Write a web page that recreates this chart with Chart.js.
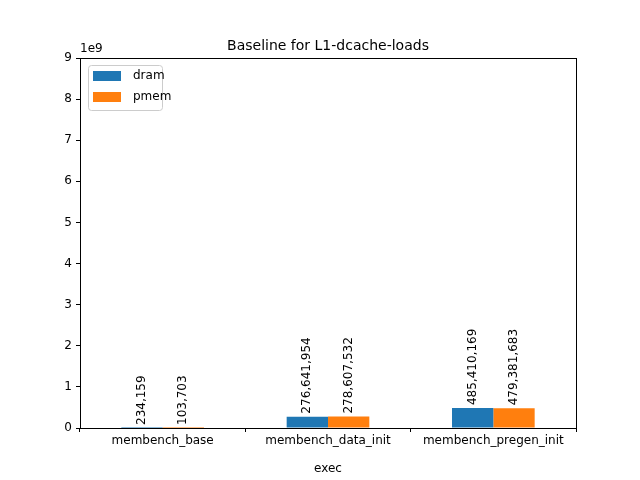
<!DOCTYPE html>
<html><head><meta charset="utf-8">
<script src="https://cdn.jsdelivr.net/npm/chart.js@4/dist/chart.umd.min.js"></script>
<style>html,body{margin:0;padding:0;background:#fff}#c{display:block}</style>
</head><body>
<div style="width:640px;height:480px"><canvas id="c"></canvas></div>
<script>
const categories = ["membench_base", "membench_data_init", "membench_pregen_init"];
const dram = [234159, 276641954, 485410169];
const pmem = [103703, 278607532, 479381683];
const yTicks = [0, 1, 2, 3, 4, 5, 6, 7, 8, 9];

const FONT = "'DejaVu Sans', sans-serif";

const extras = {
  id: "extras",
  afterDatasetsDraw(chart) {
    const ctx = chart.ctx, a = chart.chartArea;
    ctx.save();
    // value labels
    ctx.fillStyle = "#000";
    ctx.font = "12px " + FONT;
    ctx.textBaseline = "middle";
    ctx.textAlign = "left";
    chart.data.datasets.forEach((ds, i) => {
      chart.getDatasetMeta(i).data.forEach((bar, j) => {
        ctx.save();
        ctx.translate(bar.x, bar.y - 3);
        ctx.rotate(-Math.PI / 2);
        ctx.fillText(ds.data[j].toLocaleString("en-US"), 0, 0);
        ctx.restore();
      });
    });
    // frame
    ctx.strokeStyle = "#000";
    ctx.lineWidth = 1;
    ctx.strokeRect(Math.round(a.left) + 0.5, Math.round(a.top) + 0.5, Math.round(a.right - a.left), Math.round(a.bottom - a.top));
    // title
    ctx.font = "14px " + FONT;
    ctx.textAlign = "center";
    ctx.textBaseline = "alphabetic";
    ctx.fillText("Baseline for L1-dcache-loads", (a.left + a.right) / 2, a.top - 8);
    // exponent
    ctx.font = "12px " + FONT;
    ctx.textAlign = "left";
    ctx.fillText("1e9", a.left, a.top - 6);
    // legend
    const lx = a.left + 8, ly = a.top + 7;
    ctx.fillStyle = "rgba(255,255,255,0.8)";
    ctx.strokeStyle = "#ccc";
    ctx.beginPath();
    ctx.roundRect(lx + 0.5, ly + 0.5, 74, 45, 3);
    ctx.fill(); ctx.stroke();
    chart.data.datasets.forEach((ds, i) => {
      const y = ly + 11 + i * 21;
      ctx.fillStyle = ds.backgroundColor;
      ctx.fillRect(lx + 5, y - 5, 28, 10);
      ctx.fillStyle = "#000";
      ctx.textBaseline = "middle";
      ctx.fillText(ds.label, lx + 45, y);
    });
    ctx.restore();
  }
};

new Chart(document.getElementById("c"), {
  type: "bar",
  data: {
    labels: categories,
    datasets: [
      { label: "dram", data: dram, backgroundColor: "#1f77b4" },
      { label: "pmem", data: pmem, backgroundColor: "#ff7f0e" },
    ],
  },
  options: {
    responsive: true,
    maintainAspectRatio: false,
    animation: false,
    devicePixelRatio: 1,
    layout: { padding: { top: 58, right: 64, left: 0, bottom: 0 } },
    categoryPercentage: 0.5,
    barPercentage: 1,
    plugins: { legend: { display: false }, tooltip: { enabled: false } },
    scales: {
      x: {
        grid: { drawOnChartArea: false, color: "#000", tickLength: 4 },
        border: { display: false },
        ticks: { color: "#000", font: { family: FONT, size: 12 }, maxRotation: 0, padding: 2 },
        title: { display: true, text: "exec", color: "#000", font: { family: FONT, size: 12 }, padding: { top: 0 } },
        afterFit(s) { s.height = 52; },
      },
      y: {
        min: 0, max: 9e9,
        afterBuildTicks(s) { s.ticks = yTicks.map(v => ({ value: v * 1e9 })); },
        grid: { drawOnChartArea: false, color: "#000", tickLength: 4 },
        border: { display: false },
        ticks: { color: "#000", font: { family: FONT, size: 12 }, padding: 4, callback: v => String(v / 1e9) },
        afterFit(s) { s.width = 80; },
      },
    },
  },
  plugins: [extras],
});
</script>
</body></html>
